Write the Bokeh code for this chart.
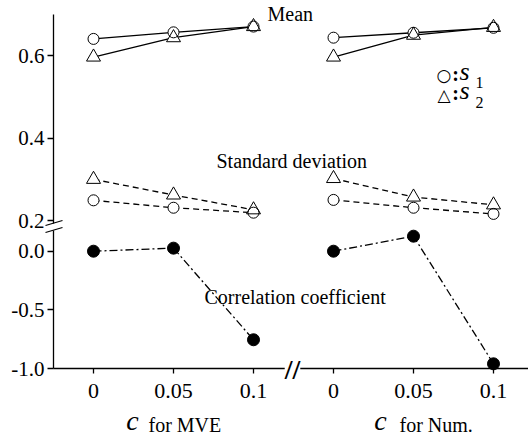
from bokeh.plotting import figure
from bokeh.models import Range1d, LinearAxis, FixedTicker, Label, Arrow
from bokeh.embed import file_html
from bokeh.resources import INLINE

# ---------------- data ----------------
c_values = [0, 0.05, 0.1]
c_labels = ["0", "0.05", "0.1"]

mve_mean_s1 = [0.641, 0.657, 0.671]
mve_mean_s2 = [0.597, 0.644, 0.671]
mve_std_s1 = [0.249, 0.231, 0.219]
mve_std_s2 = [0.300, 0.262, 0.226]
mve_corr = [0.0, 0.026, -0.755]

num_mean_s1 = [0.644, 0.656, 0.668]
num_mean_s2 = [0.597, 0.650, 0.669]
num_std_s1 = [0.250, 0.231, 0.216]
num_std_s2 = [0.302, 0.257, 0.238]
num_corr = [0.0, 0.128, -0.960]

upper_ticks = [0.2, 0.4, 0.6]
upper_labels = ["0.2", "0.4", "0.6"]
lower_ticks = [-1.0, -0.5, 0.0]
lower_labels = ["-1.0", "-0.5", "0.0"]

# ---------------- layout (frame = whole canvas) ----------------
W, H = 528, 436
AX_LEFT, AX_TOP, AX_BOTTOM = 53, 14, 368   # pixel positions of the axis lines
OFFSET = 0.15  # shift of the "Num." block along the shared x scale


def linear_range(v_a, px_a, v_b, px_b, size, vertical):
    k = (v_b - v_a) / (px_b - px_a)          # data units per pixel
    if vertical:                              # pixel 0 = top
        return v_a + (size - px_a) * k, v_a - px_a * k
    return v_a - px_a * k, v_a + (size - px_a) * k


X_START, X_END = linear_range(0.0, 93.0, 0.1, 253.0, W, False)
UP_START, UP_END = linear_range(0.6, 55.3, 0.2, 220.0, H, True)
LOW_START, LOW_END = linear_range(0.0, 250.7, -1.0, 368.0, H, True)


def dx(px):
    return X_START + px / W * (X_END - X_START)


def dy_up(py):
    return UP_END - py / H * (UP_END - UP_START)


def dy_low(py):
    return LOW_END - py / H * (LOW_END - LOW_START)


num_x = [v + OFFSET for v in c_values]
all_ticks = [round(v, 4) for v in c_values + num_x]

SERIF = "'Liberation Serif', 'Times New Roman', serif"

p = figure(width=W, height=H, output_backend="svg", toolbar_location=None,
           title=None, x_range=Range1d(X_START, X_END),
           y_range=Range1d(UP_START, UP_END),
           x_axis_location=None, y_axis_location=None, min_border=0)
p.extra_y_ranges = {"low": Range1d(LOW_START, LOW_END)}
p.grid.visible = False
p.outline_line_color = None
p.background_fill_color = "white"
p.border_fill_color = "white"


def style_axis(ax, size, tick_out, standoff):
    ax.axis_line_color = "black"
    ax.axis_line_width = 1.3
    ax.major_tick_line_color = "black"
    ax.major_tick_line_width = 1.3
    ax.major_tick_out = tick_out
    ax.major_tick_in = 0
    ax.minor_tick_line_color = None
    ax.major_label_text_font = SERIF
    ax.major_label_text_font_size = size
    ax.major_label_text_color = "black"
    ax.major_label_standoff = standoff


# x axis
xa = LinearAxis(ticker=FixedTicker(ticks=all_ticks),
                fixed_location=dy_up(AX_BOTTOM), bounds=(dx(AX_LEFT), X_END))
xa.major_label_overrides = {t: lab for t, lab in zip(all_ticks, c_labels * 2)}
style_axis(xa, "22px", 5, 10)
p.add_layout(xa, "below")

# y axes (broken)
ya_up = LinearAxis(ticker=FixedTicker(ticks=upper_ticks),
                   bounds=(dy_up(222.5), dy_up(AX_TOP)), fixed_location=dx(AX_LEFT))
ya_up.major_label_overrides = dict(zip(upper_ticks, upper_labels))
ya_low = LinearAxis(y_range_name="low", ticker=FixedTicker(ticks=lower_ticks),
                    bounds=(dy_low(AX_BOTTOM), dy_low(229.5)), fixed_location=dx(AX_LEFT))
ya_low.major_label_overrides = dict(zip(lower_ticks, lower_labels))
style_axis(ya_up, "21px", 6, 3)
style_axis(ya_low, "21px", 6, 3)
p.add_layout(ya_up, "left")
p.add_layout(ya_low, "left")

# ---------------- series ----------------
LW = 1.3
for xs, m1, m2, s1, s2, cr in [
    (c_values, mve_mean_s1, mve_mean_s2, mve_std_s1, mve_std_s2, mve_corr),
    (num_x, num_mean_s1, num_mean_s2, num_std_s1, num_std_s2, num_corr),
]:
    p.line(xs, m1, line_color="black", line_width=LW)
    p.line(xs, m2, line_color="black", line_width=LW)
    p.line(xs, s1, line_color="black", line_width=LW, line_dash="6 4")
    p.line(xs, s2, line_color="black", line_width=LW, line_dash="6 4")
    p.line(xs, cr, line_color="black", line_width=LW, line_dash="8 3 2 3",
           y_range_name="low")
    for ys in (m1, s1):
        p.scatter(xs, ys, marker="circle", size=11, fill_color="white", line_color=None)
    for ys in (m2, s2):
        p.scatter(xs, ys, marker="triangle", size=14, fill_color="white", line_color=None)
    for ys in (m1, s1):
        p.scatter(xs, ys, marker="circle", size=11, fill_color=None,
                  line_color="black", line_width=1)
    for ys in (m2, s2):
        p.scatter(xs, ys, marker="triangle", size=14, fill_color=None,
                  line_color="black", line_width=1)
    p.scatter(xs, cr, marker="circle", size=12, fill_color="black",
              line_color="black", y_range_name="low")


# ---------------- annotations ----------------
def txt(text, px, py, size="20px", font=SERIF, style="normal", align="left",
        baseline="middle", low=False, **kw):
    y = dy_low(py) if low else dy_up(py)
    lab = Label(x=dx(px), y=y, text=text, text_font=font, text_font_size=size,
                text_font_style=style, text_align=align, text_baseline=baseline,
                text_color="black", **kw)
    if low:
        lab.y_range_name = "low"
    p.add_layout(lab)


txt("Mean", 267, 13.5)
txt("Standard deviation", 216, 160.5)
txt("Correlation coefficient", 204, 296.5, low=True)

# legend
txt("\u25cb", 443.5, 74.5, size="17px", font="DejaVu Sans", align="center")
txt(":", 455, 73.5, size="20px", style="bold", align="center")
txt("s", 459, 71, size="26px", style="italic")
txt("1", 475, 81.5, size="16px")
txt("\u25b3", 443.5, 94, size="17px", font="DejaVu Sans", align="center")
txt(":", 455, 92.5, size="20px", style="bold", align="center")
txt("s", 459, 90, size="26px", style="italic")
txt("2", 475, 101.5, size="16px")

# axis titles
txt("c", 132, 435, size="28px", style="italic", align="center",
    baseline="bottom", low=True)
txt("for MVE", 148, 435, size="20px", baseline="bottom", low=True)
txt("c", 380, 435, size="28px", style="italic", align="center",
    baseline="bottom", low=True)
txt("for Num.", 399, 435, size="20px", baseline="bottom", low=True)

# x-axis break
txt("//", 292, 369, size="28px", style="bold", align="center",
    low=True, background_fill_color="white")

# y-axis break marks
for y0, y1 in [(225, 220), (232, 227)]:
    p.add_layout(Arrow(x_start=dx(45), y_start=dy_up(y0), x_end=dx(62),
                       y_end=dy_up(y1), end=None, line_color="black",
                       line_width=1.2))

open("out.html", "w").write(file_html(p, INLINE))
